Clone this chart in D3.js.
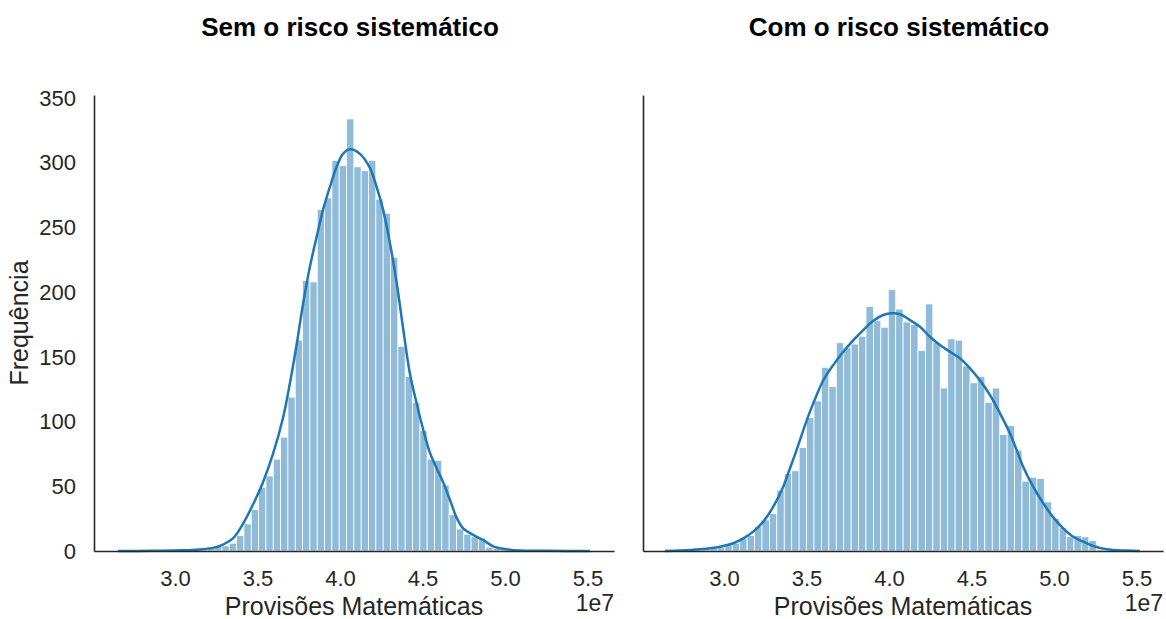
<!DOCTYPE html>
<html>
<head>
<meta charset="utf-8">
<script src="https://cdn.jsdelivr.net/npm/d3@7"></script>
<style>
    body { margin: 0; background: #fff; }
    text { font-family: "Liberation Sans", Arial, sans-serif; fill: #262626; }
</style>
</head>
<body>
<svg id="chart" width="1166" height="619"></svg>
<script>
// =====================
// DATA (x in units 1e7)
// =====================
var xTicks = [3.0, 3.5, 4.0, 4.5, 5.0, 5.5];
var yTicks = [0, 50, 100, 150, 200, 250, 300, 350];

// "Sem o risco sistemático"
var semBinStart = 3.107;
var semBinWidth = 0.04442;
var semCounts = [1, 2, 3, 4, 4, 6, 12, 21, 32, 49, 58, 71, 88, 119, 163, 209, 208, 264, 273, 302, 298,
    334, 297, 294, 302, 272, 261, 227, 158, 135, 115, 93, 71, 70, 51, 28, 17, 13, 11, 10, 3, 2, 1];
var semKdeX = [2.654, 2.848, 3.030, 3.151, 3.230, 3.273, 3.351, 3.412, 3.473, 3.533, 3.594, 3.655, 3.697,
    3.738, 3.776, 3.818, 3.859, 3.897, 3.939, 3.980, 4.018, 4.061, 4.121, 4.182, 4.222, 4.262, 4.303, 4.344,
    4.384, 4.424, 4.465, 4.505, 4.545, 4.586, 4.626, 4.667, 4.707, 4.747, 4.808, 4.868, 4.929, 5.010, 5.091,
    5.273, 5.515];
var semKdeY = [0, 0.1, 0.5, 1.2, 2.4, 4, 9.8, 21, 36, 53, 75, 103, 130, 160, 191, 220, 243, 263.5, 281.5,
    297, 307, 310.5, 307, 296, 281.5, 263.5, 238, 207, 171, 137, 114, 93.5, 76, 64, 53, 39.4, 25.8, 17.5,
    12.4, 8.5, 3.6, 1.3, 0.3, 0.1, 0];

// "Com o risco sistemático"
var comBinStart = 2.825;
var comBinWidth = 0.04503;
var comCounts = [1, 2, 2, 3, 5, 6, 10, 12, 19, 24, 29, 47, 60, 62, 80, 103, 116, 142, 127, 161, 157, 160,
    166, 189, 178, 173, 202, 187, 177, 175, 155, 191, 161, 126, 164, 163, 143, 130, 135, 115, 126, 90, 97,
    78, 54, 57, 56, 38, 25, 18, 11, 12, 11, 8, 1];
var comKdeX = [2.642, 2.733, 2.854, 2.976, 3.056, 3.117, 3.177, 3.238, 3.299, 3.359, 3.400, 3.440, 3.481,
    3.521, 3.562, 3.602, 3.662, 3.723, 3.784, 3.844, 3.905, 3.965, 4.016, 4.067, 4.127, 4.188, 4.248, 4.309,
    4.370, 4.430, 4.491, 4.551, 4.612, 4.673, 4.733, 4.774, 4.814, 4.874, 4.935, 4.996, 5.056, 5.117, 5.178,
    5.238, 5.319, 5.440, 5.521];
var comKdeY = [0, 0.3, 1.3, 3.3, 6, 9.8, 15, 22.7, 34.3, 49.7, 64, 78, 93.5, 107.7, 120.6, 132, 143.7, 154,
    163, 170.8, 178, 182.4, 183.7, 183, 178.5, 173.3, 165.6, 159.2, 154, 149, 141.2, 132, 120.6, 106.4, 91,
    78, 65, 49.7, 36.9, 26, 17.5, 11, 7.2, 3.9, 1.3, 0.3, 0];

// ========
// # MAIN #
// ========
var svg = d3.select("#chart");
svg.append("rect").attr("width", 1166).attr("height", 619).attr("fill", "#fff");

var plotTop = 95, plotBottom = 551, panelWidth = 520;
var color = "#1f77b4";

var y = d3.scaleLinear().domain([0, 352.5]).range([plotBottom, plotTop]);

// ####################################
// # draws one histogram + kde panel
// ####################################
function drawPanel(left, title, binStart, binWidth, counts, kdeX, kdeY, showY) {
    var x = d3.scaleLinear().domain([2.509, 5.661]).range([left, left + panelWidth]);
    var g = svg.append("g");

    g.append("g")
        .selectAll("rect")
        .data(counts)
        .enter().append("rect")
        .attr("x", function (d, i) { return x(binStart + i * binWidth); })
        .attr("width", function (d, i) { return x(binStart + (i + 1) * binWidth) - x(binStart + i * binWidth); })
        .attr("y", function (d) { return y(d); })
        .attr("height", function (d) { return y(0) - y(d); })
        .attr("fill", color)
        .attr("fill-opacity", 0.5)
        .attr("stroke", "#fff")
        .attr("stroke-width", 0.8);

    var line = d3.line()
        .x(function (d) { return x(d[0]); })
        .y(function (d) { return y(Math.max(0, d[1])); })
        .curve(d3.curveCatmullRom.alpha(0.5));

    g.append("path")
        .datum(d3.zip(kdeX, kdeY))
        .attr("d", line)
        .attr("fill", "none")
        .attr("stroke", color)
        .attr("stroke-width", 2.5);

    var xAxis = g.append("g")
        .attr("transform", "translate(0," + plotBottom + ")")
        .call(d3.axisBottom(x).tickValues(xTicks).tickSize(0).tickPadding(19).tickFormat(d3.format(".1f")));
    xAxis.selectAll("text").attr("font-size", 22).style("font-family", null);

    var yAxis = g.append("g")
        .attr("transform", "translate(" + left + ",0)")
        .call(d3.axisLeft(y).tickValues(yTicks).tickSize(0).tickPadding(18));
    if (showY) {
        yAxis.selectAll("text").attr("font-size", 22);
    } else {
        yAxis.selectAll("text").remove();
    }
    g.selectAll(".domain").attr("stroke", "#262626").attr("stroke-width", 1.6);

    g.append("text")
        .attr("x", left + panelWidth / 2 - 4)
        .attr("y", 36)
        .attr("text-anchor", "middle")
        .attr("font-size", 26)
        .attr("font-weight", "bold")
        .style("fill", "#000")
        .text(title);

    g.append("text")
        .attr("x", left + panelWidth / 2)
        .attr("y", 615)
        .attr("text-anchor", "middle")
        .attr("font-size", 25)
        .text("Provisões Matemáticas");

    g.append("text")
        .attr("x", left + panelWidth)
        .attr("y", 611)
        .attr("text-anchor", "end")
        .attr("font-size", 23)
        .text("1e7");

    if (showY) {
        g.append("text")
            .attr("transform", "translate(28," + ((plotTop + plotBottom) / 2) + ") rotate(-90)")
            .attr("text-anchor", "middle")
            .attr("font-size", 25)
            .text("Frequência");
    }
}

drawPanel(94, "Sem o risco sistemático", semBinStart, semBinWidth, semCounts, semKdeX, semKdeY, true);
drawPanel(643, "Com o risco sistemático", comBinStart, comBinWidth, comCounts, comKdeX, comKdeY, false);
</script>
</body>
</html>
